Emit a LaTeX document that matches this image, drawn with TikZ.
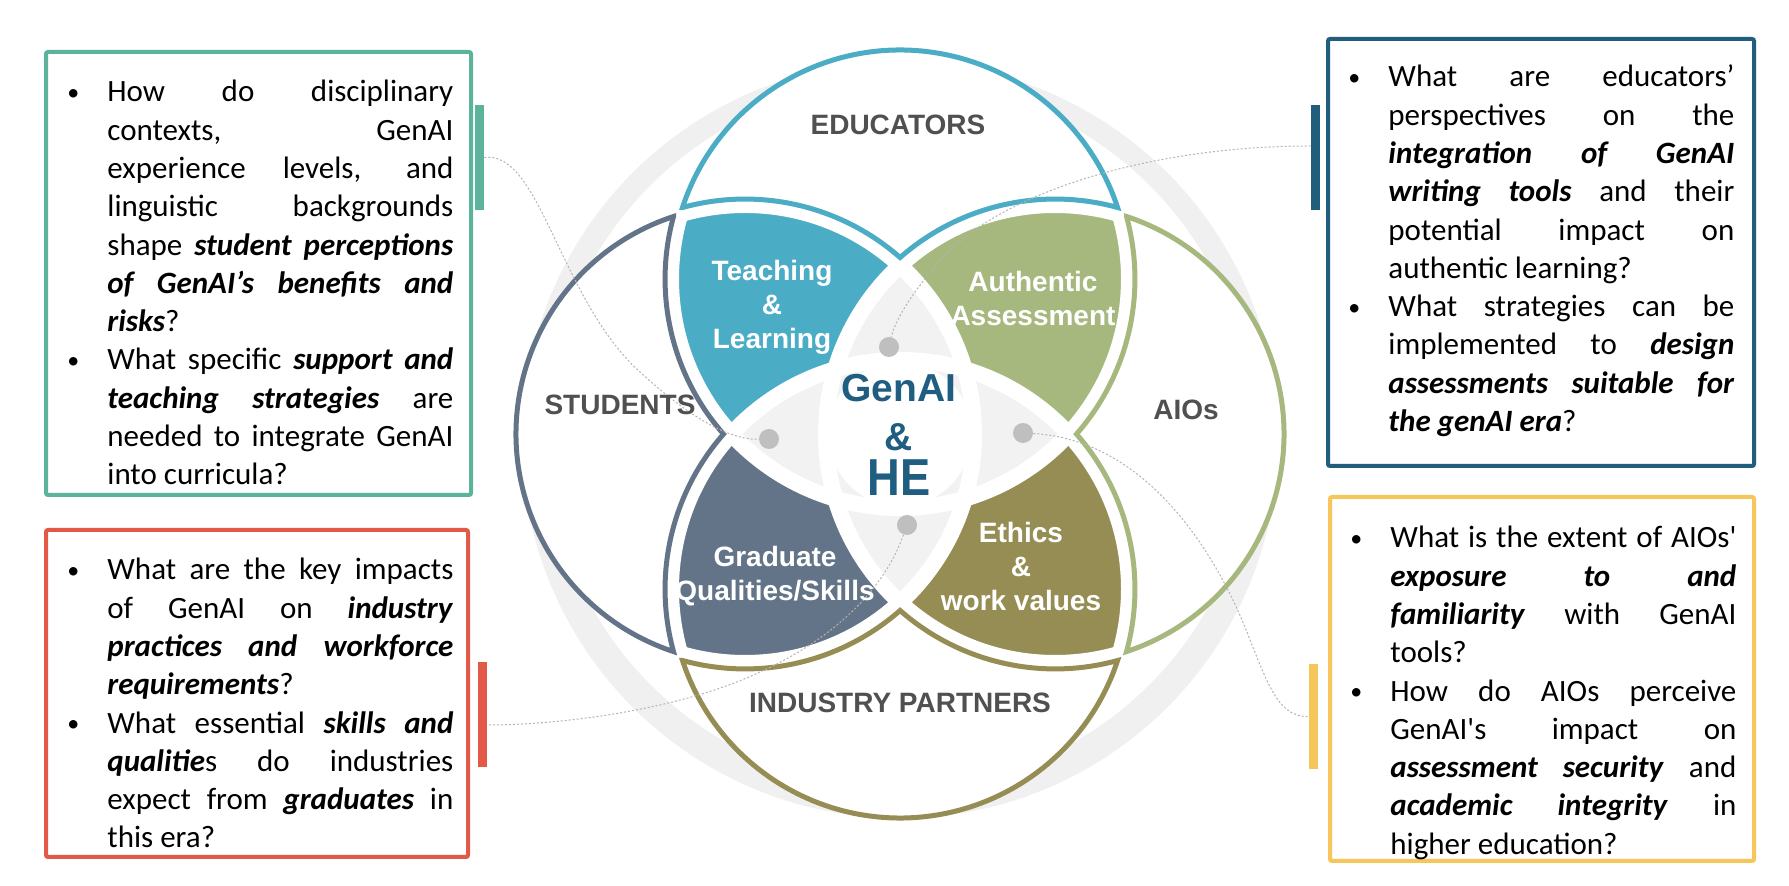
\documentclass[tikz,border=0pt]{standalone}
\usepackage{fontspec}
\setmainfont{Carlito}[Ligatures=TeXOff]
\newfontfamily\arialfont{Liberation Sans}
\newfontfamily\arialnarrow{Liberation Sans}[FakeStretch=0.87]
\usetikzlibrary{positioning}

\definecolor{edublue}{RGB}{75,172,198}
\definecolor{stuslate}{RGB}{99,116,137}
\definecolor{aiogreen}{RGB}{166,184,126}
\definecolor{indolive}{RGB}{150,141,84}
\definecolor{hubblue}{RGB}{31,94,128}
\definecolor{labelgray}{RGB}{80,80,80}
\definecolor{coregray}{RGB}{242,242,242}
\definecolor{ringgray}{RGB}{240,240,240}
\definecolor{dotgray}{RGB}{191,191,191}
\definecolor{linkgray}{RGB}{180,180,180}
\definecolor{boxgreen}{RGB}{91,179,155}
\definecolor{boxred}{RGB}{226,90,71}
\definecolor{boxblue}{RGB}{33,94,126}
\definecolor{boxyellow}{RGB}{247,198,90}

\newcommand{\qfont}{\fontsize{15.5pt}{19.15pt}\selectfont\tolerance=10000\hbadness=10000\hyphenpenalty=10000\parindent=0pt}
\newcommand{\qitem}{\par\hangindent=20pt\hangafter=1\noindent\makebox[20pt][l]{\strut\raisebox{0.8pt}{\fontsize{12pt}{12pt}\selectfont\textbullet}}}
\newcommand{\kw}[1]{\textbf{\textit{#1}}}

\begin{document}
\begin{tikzpicture}[x=0.5pt,y=-0.5pt,
    lbl/.style={font=\arialfont\bfseries\fontsize{14pt}{17pt}\selectfont,text=labelgray},
    petal/.style={font=\arialfont\bfseries\fontsize{14pt}{17pt}\selectfont,text=white,align=center},
    hub/.style={font=\arialfont\bfseries\fontsize{19.5pt}{22pt}\selectfont,text=hubblue,inner sep=0pt},
    outl/.style={draw=#1,line width=2.5pt,line join=miter},
    qbox/.style={draw=#1,line width=2pt,rounded corners=1pt},
    qtext/.style={anchor=north west,inner sep=0pt,text width=193pt,align=justify,font=\qfont},
    qbar/.style={fill=#1,minimum width=4.5pt,minimum height=52.5pt,inner sep=0pt},
    qdot/.style={circle,fill=dotgray,minimum size=10pt,inner sep=0pt},
    link/.style={draw=linkgray,line width=0.5pt,dash pattern=on 1pt off 1pt}]

  \fill[white] (0,0) rectangle (1789,886);
  \useasboundingbox (0,0) rectangle (1789,886);

  \coordinate (C) at (900,434);
  \coordinate (T) at (900,279);
  \coordinate (B) at (900,589);
  \coordinate (L) at (745,434);
  \coordinate (R) at (1055,434);

  % ring behind the four circles
  \fill[ringgray,even odd rule] (900,440) circle (378) (900,435) circle (353);
  \foreach \ctr in {T,B,L,R} \fill[white] (\ctr) circle (229);

  % overlaps
  \begin{scope}
    \clip (T) circle (229);
    \fill[edublue] (L) circle (229);
    \fill[aiogreen] (R) circle (229);
  \end{scope}
  \begin{scope}
    \clip (B) circle (229);
    \fill[stuslate] (L) circle (229);
    \fill[indolive] (R) circle (229);
  \end{scope}
  \begin{scope}
    \clip (L) circle (229);
    \fill[coregray] (R) circle (229);
  \end{scope}
  \begin{scope}
    \clip (T) circle (229);
    \fill[coregray] (B) circle (229);
  \end{scope}
  \begin{scope}
    \clip (C) circle (330);
    \foreach \ctr in {T,B,L,R} \draw[white,line width=8pt] (\ctr) circle (229);
  \end{scope}
  \fill[white] (C) circle (72);

  % outer shapes
  \draw[outl=edublue] (682.5,207.5) arc[start angle=198.2,end angle=341.8,radius=229]
    arc[start angle=-74.6,end angle=-131.3,radius=235]
    arc[start angle=-48.7,end angle=-105.4,radius=235] -- cycle;
  \draw[outl=stuslate] (673.5,216.5) arc[start angle=251.8,end angle=108.2,radius=229]
    arc[start angle=164.6,end angle=221.3,radius=235]
    arc[start angle=138.7,end angle=195.4,radius=235] -- cycle;
  \draw[outl=aiogreen] (1126.5,216.5) arc[start angle=-71.8,end angle=71.8,radius=229]
    arc[start angle=15.4,end angle=-41.3,radius=235]
    arc[start angle=41.3,end angle=-15.4,radius=235] -- cycle;
  \draw[outl=indolive] (682.5,660.5) arc[start angle=161.8,end angle=18.2,radius=229]
    arc[start angle=74.6,end angle=131.3,radius=235]
    arc[start angle=48.7,end angle=105.4,radius=235] -- cycle;

  % question boxes
  \draw[qbox=boxgreen] (46,52) rectangle (471,495);
  \draw[qbox=boxred] (46,530) rectangle (468,857);
  \draw[qbox=boxblue] (1328,39) rectangle (1754,466);
  \draw[qbox=boxyellow] (1330,497) rectangle (1754,861);

  \node[qbar=boxgreen] (gbar) at (479.5,157.5) {};
  \node[qbar=boxred] (rbar) at (482.5,714.5) {};
  \node[qbar=boxblue] (bbar) at (1315.5,157.5) {};
  \node[qbar=boxyellow] (ybar) at (1313.5,716.5) {};

  \node[qtext] (gtext) at (67,63.2) {%
    \qitem How do disciplinary\linebreak contexts, GenAI\linebreak experience levels, and\linebreak
    linguistic backgrounds\linebreak shape \kw{student perceptions}\linebreak
    \kw{of GenAI’s benefits and}\linebreak \kw{risks}?
    \qitem What specific \kw{support and}\linebreak \kw{teaching strategies} are\linebreak
    needed to integrate GenAI\linebreak into curricula?\par};
  \node[qtext] (rtext) at (67,541.2) {%
    \qitem What are the key impacts\linebreak of GenAI on \kw{industry}\linebreak
    \kw{practices and workforce}\linebreak \kw{requirements}?
    \qitem What essential \kw{skills and}\linebreak \kw{qualitie}s do industries\linebreak
    expect from \kw{graduates} in\linebreak this era?\par};
  \node[qtext] (btext) at (1348,48.2) {%
    \qitem What are educators’\linebreak perspectives on the\linebreak
    \kw{integration of GenAI}\linebreak \kw{writing tools} and their\linebreak
    potential impact on\linebreak authentic learning?
    \qitem What strategies can be\linebreak implemented to \kw{design}\linebreak
    \kw{assessments suitable for}\linebreak \kw{the genAI era}?\par};
  \node[qtext] (ytext) at (1350,509.2) {%
    \qitem What is the extent of AIOs'\linebreak \kw{exposure to and}\linebreak
    \kw{familiarity} with GenAI\linebreak tools?
    \qitem How do AIOs perceive\linebreak GenAI's impact on\linebreak
    \kw{assessment security} and\linebreak \kw{academic integrity} in\linebreak
    higher education?\par};

  % dots and dotted links
  \node[qdot] (tdot) at (889,347) {};
  \node[qdot] (ldot) at (769,439) {};
  \node[qdot] (rdot) at (1023,433) {};
  \node[qdot] (bdot) at (907,525) {};

  \draw[link] (gbar.east) .. controls (540,150) and (560,300) .. (640,372)
    .. controls (690,418) and (730,440) .. (ldot);
  \draw[link] ([yshift=5.75pt]bbar.west) .. controls (1150,146) and (1010,192) .. (950,250)
    .. controls (915,287) and (895,320) .. (tdot);
  \draw[link] (rdot) .. controls (1150,440) and (1220,560) .. (1250,640)
    .. controls (1270,690) and (1280,717) .. (ybar.west);
  \draw[link] (bdot) .. controls (880,600) and (820,645) .. (760,672)
    .. controls (680,710) and (560,725) .. ([yshift=-5.25pt]rbar.east);

  % labels
  \node[lbl] (edu) at (898,125) {EDUCATORS};
  \node[lbl] (stu) at (620,405) {STUDENTS};
  \node[lbl] (aio) at (1186,410) {AIOs};
  \node[lbl] (ind) at (900,703) {INDUSTRY PARTNERS};

  \node[petal] (tl) at (772,307) {Teaching\\\&\\Learning};
  \node[petal] (aa) at (1033,298.5) {Authentic\\Assessment};
  \node[petal] (gq) at (775,576) {Graduate\\Qualities/Skills};
  \node[petal] (ew) at (1021,566.5) {Ethics\\\&\\work values};

  \node[hub] (genai) at (899,388) {GenAI};
  \node[hub,below of=genai,node distance=24.5pt] (amp) {\&};
  \node[hub,font=\arialnarrow\bfseries\fontsize{26pt}{30pt}\selectfont,below of=amp,node distance=20.5pt] (he) {HE};
\end{tikzpicture}
\end{document}
